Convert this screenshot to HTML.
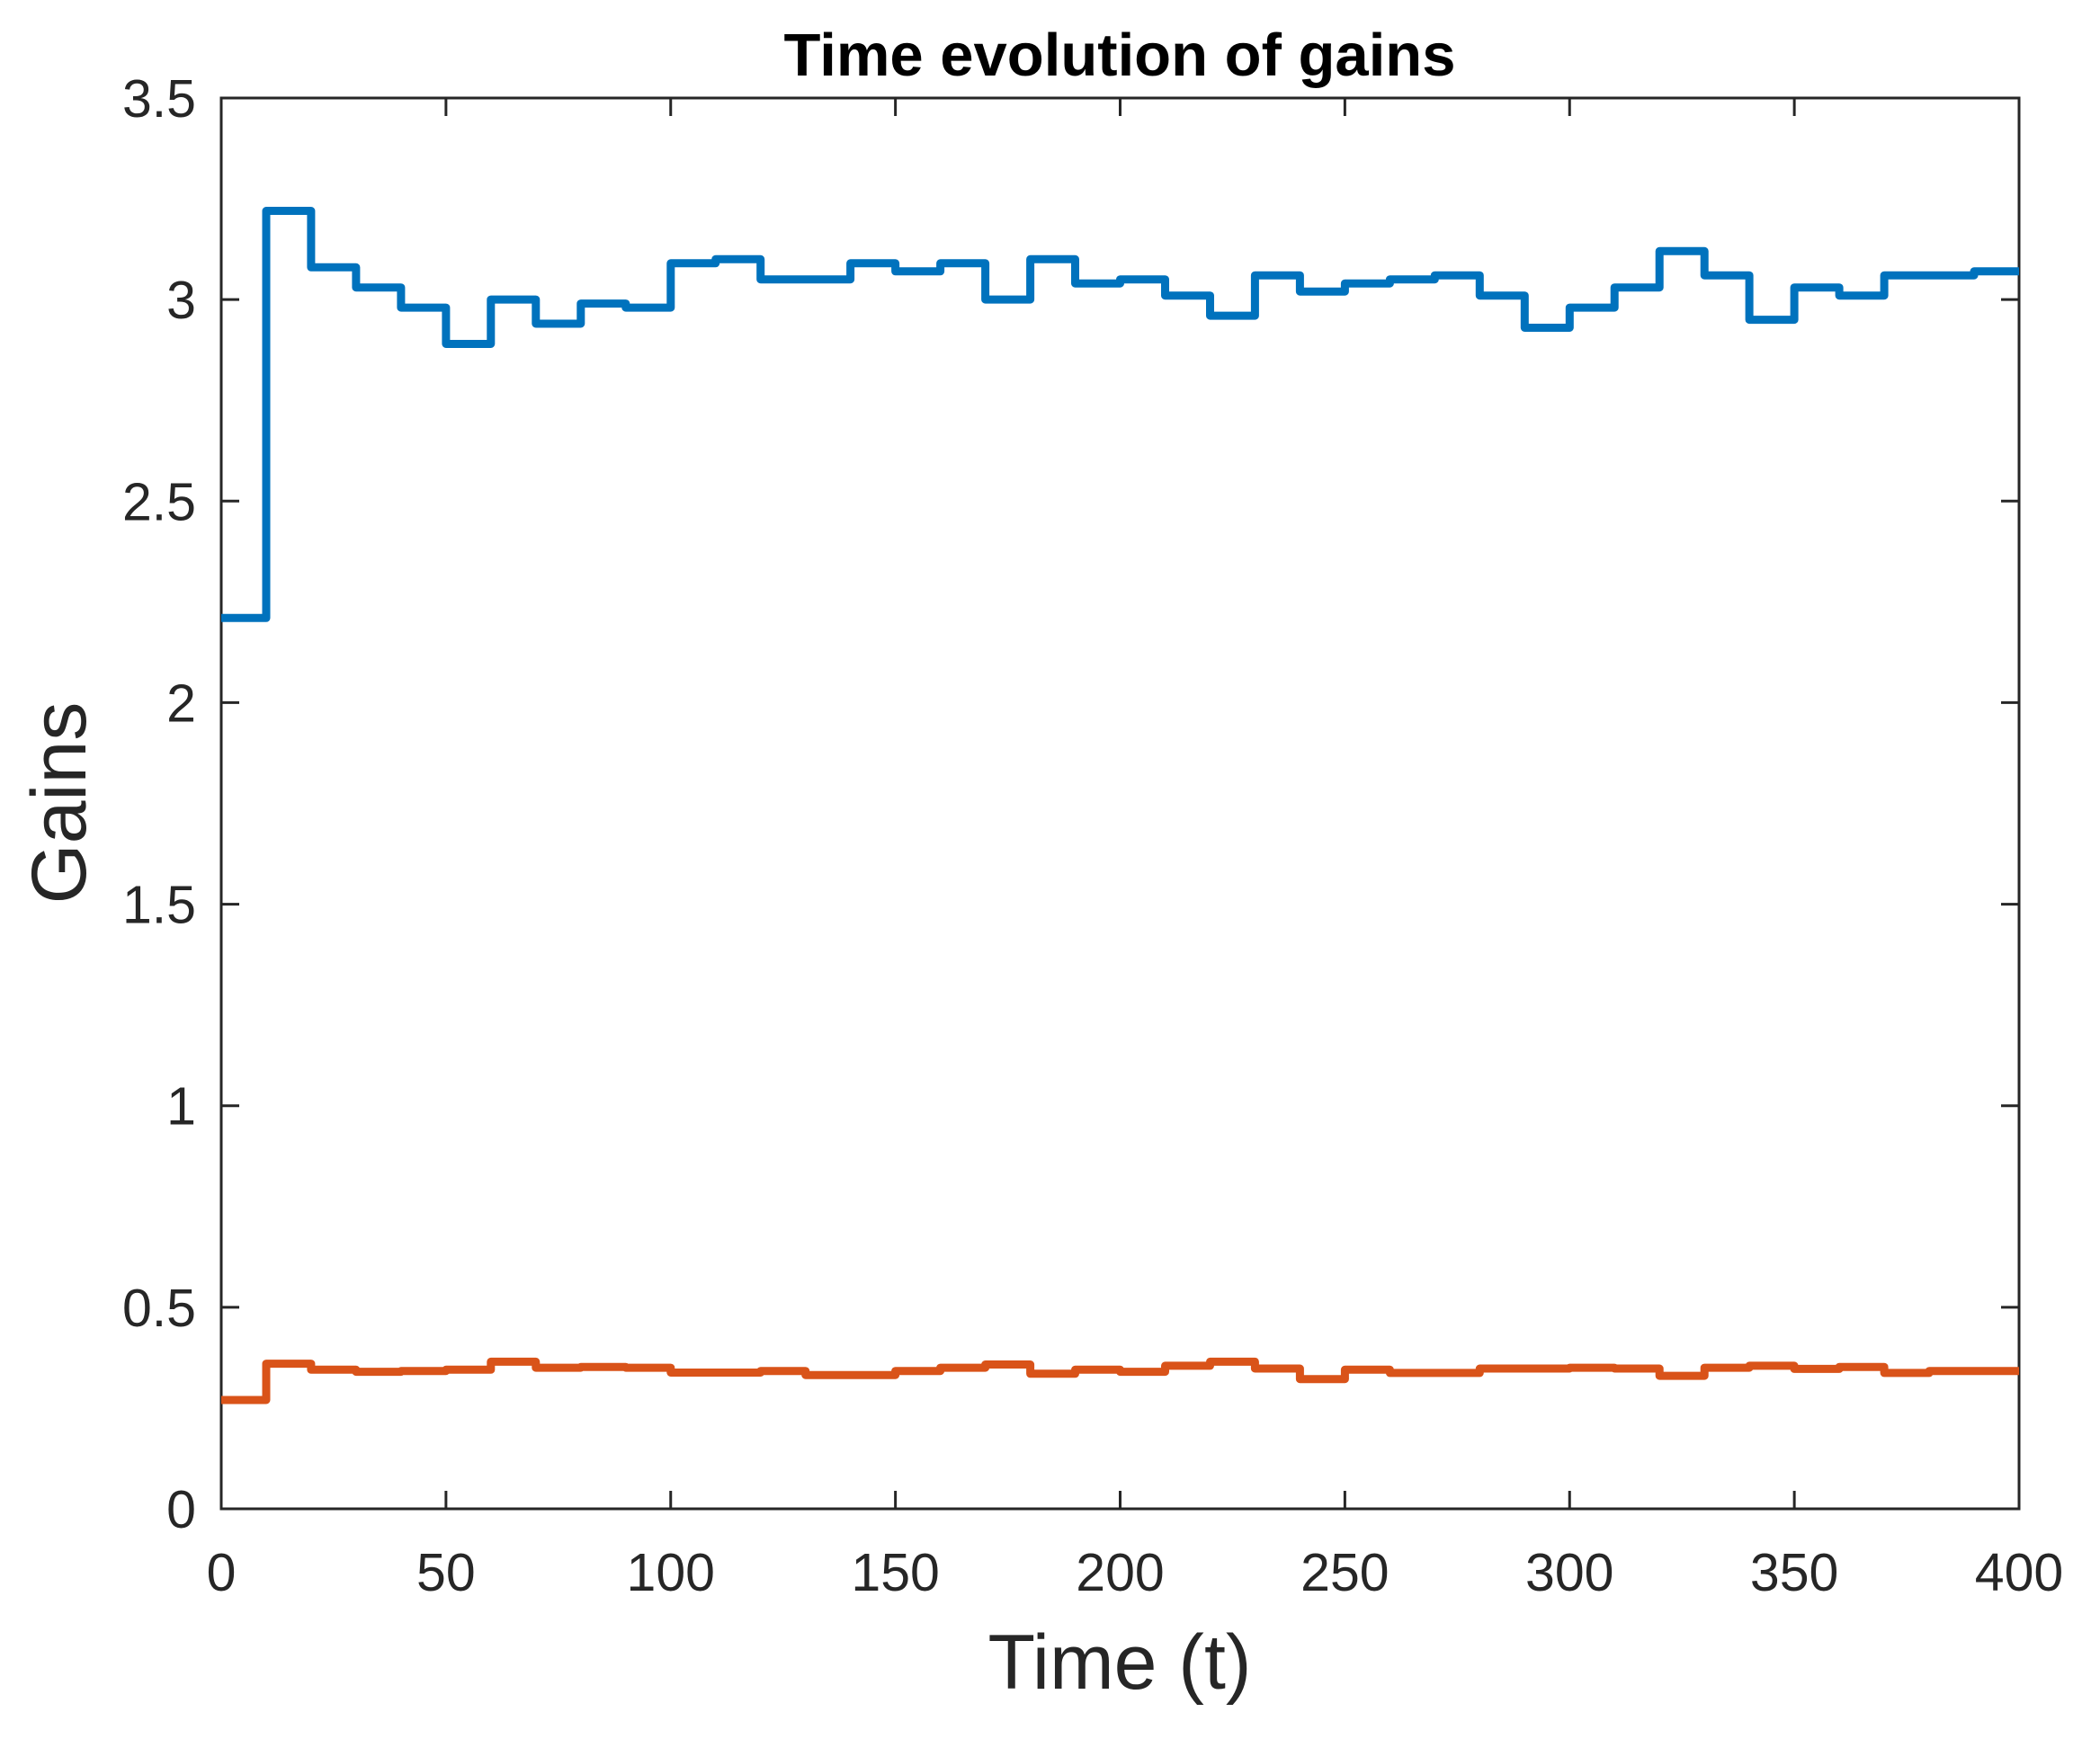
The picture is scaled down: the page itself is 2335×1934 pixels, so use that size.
<!DOCTYPE html>
<html><head><meta charset="utf-8"><style>
html,body{margin:0;padding:0;background:#fff;}
svg{display:block;font-family:"Liberation Sans",sans-serif;}
</style></head><body>
<svg id="chart" width="2335" height="1934" viewBox="0 0 2335 1934">
<text x="1245" y="84" text-anchor="middle" font-size="67" font-weight="bold" fill="#000">Time evolution of gains</text>
<g id="axes"></g>
<g id="series"></g>
<text x="1245" y="1878" text-anchor="middle" font-size="86" fill="#262626">Time (t)</text>
<text transform="translate(95,893) rotate(-90)" text-anchor="middle" font-size="86" fill="#262626">Gains</text>
</svg>
<script>
const xTicks = [0,50,100,150,200,250,300,350,400];
const yTicks = [0,0.5,1,1.5,2,2.5,3,3.5];
const yTickLabels = ["0","0.5","1","1.5","2","2.5","3","3.5"];
const stepTimes = [0,10,20,30,40,50,60,70,80,90,100,110,120,130,140,150,160,170,180,190,200,210,220,230,240,250,260,270,280,290,300,310,320,330,340,350,360,370,380,390];
const gainBlue = [2.21,3.22,3.08,3.03,2.98,2.89,3.00,2.94,2.99,2.98,3.09,3.10,3.05,3.05,3.09,3.07,3.09,3.00,3.10,3.04,3.05,3.01,2.96,3.06,3.02,3.04,3.05,3.06,3.01,2.93,2.98,3.03,3.12,3.06,2.95,3.03,3.01,3.06,3.06,3.07];
const gainOrange = [0.27,0.36,0.345,0.34,0.342,0.345,0.365,0.35,0.352,0.35,0.338,0.338,0.342,0.332,0.332,0.342,0.35,0.358,0.335,0.345,0.34,0.355,0.365,0.348,0.322,0.345,0.337,0.337,0.348,0.348,0.35,0.348,0.33,0.35,0.355,0.347,0.352,0.337,0.342,0.342];
const tEnd = 400;

const L=246,R=2245,T=109,B=1678;
const xs=v=>L+(v-0)/(400-0)*(R-L);
const ys=v=>B-(v-0)/(3.5-0)*(B-T);
const NS="http://www.w3.org/2000/svg";
const axes=document.getElementById('axes');
const ser=document.getElementById('series');
function mk(tag,attrs,parent){const e=document.createElementNS(NS,tag);for(const k in attrs)e.setAttribute(k,attrs[k]);parent.appendChild(e);return e;}

const box=mk('rect',{x:L,y:T,width:R-L,height:B-T,fill:'none',stroke:'#262626','stroke-width':3},axes);



xTicks.forEach(v=>{
  const x=xs(v);
  const t1=mk('line',{x1:x,x2:x,y1:B,y2:B-20,stroke:'#262626','stroke-width':3},axes);
  
  
  const t2=mk('line',{x1:x,x2:x,y1:T,y2:T+20,stroke:'#262626','stroke-width':3},axes);
  
  
  const lb=mk('text',{x:x,y:1769,'text-anchor':'middle','font-size':59,fill:'#262626'},axes);
  lb.textContent=String(v);
  
  
});
yTicks.forEach((v,i)=>{
  const y=ys(v);
  const t1=mk('line',{x1:L,x2:L+20,y1:y,y2:y,stroke:'#262626','stroke-width':3},axes);
  
  
  const t2=mk('line',{x1:R,x2:R-20,y1:y,y2:y,stroke:'#262626','stroke-width':3},axes);
  
  
  const lb=mk('text',{x:218,y:y+21,'text-anchor':'end','font-size':59,fill:'#262626'},axes);
  lb.textContent=yTickLabels[i];
  
  
});

function stepPath(vals){
  let d='';
  vals.forEach((v,i)=>{
    const x0=xs(stepTimes[i]);
    const x1=xs(i+1<stepTimes.length?stepTimes[i+1]:tEnd);
    d+=(i===0?'M':'L')+x0.toFixed(1)+','+ys(v).toFixed(1)+'L'+x1.toFixed(1)+','+ys(v).toFixed(1);
  });
  return d;
}
const pb=mk('path',{d:stepPath(gainBlue),fill:'none',stroke:'#0072BD','stroke-width':9,'stroke-linejoin':'round'},ser);


const po=mk('path',{d:stepPath(gainOrange),fill:'none',stroke:'#D95319','stroke-width':9,'stroke-linejoin':'round'},ser);


</script>
</body></html>
